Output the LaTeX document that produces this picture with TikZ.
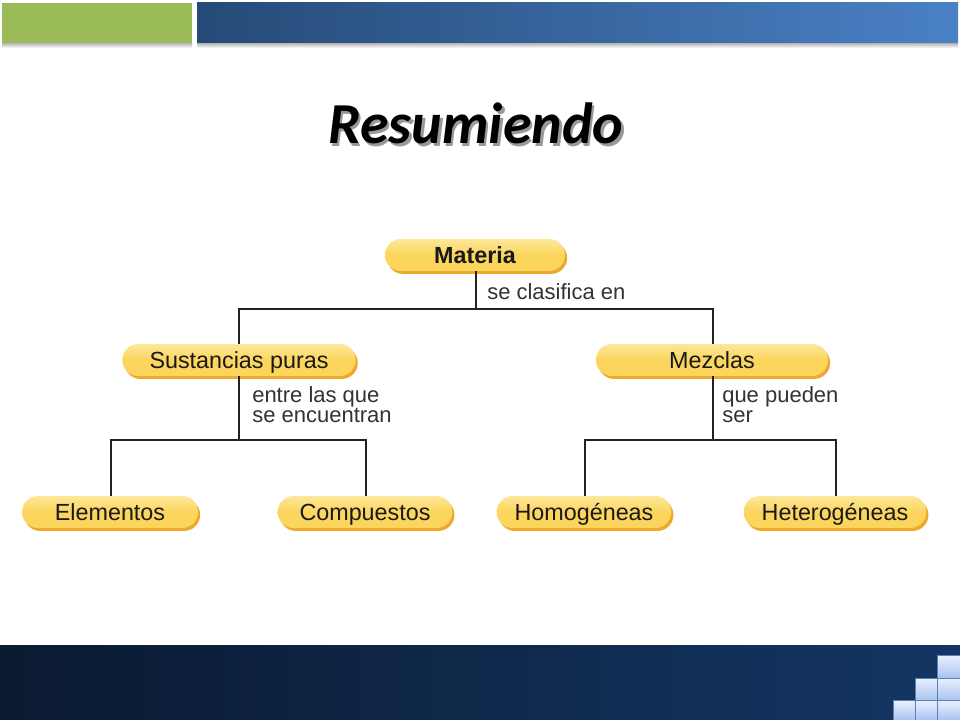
\documentclass[tikz,border=0pt]{standalone}
\usepackage{fontspec}
\setmainfont{Liberation Sans}
\newfontfamily\titlefont{Carlito}
\usetikzlibrary{shapes.misc}
\definecolor{barGreen}{HTML}{9BBB59}
\definecolor{blueL}{HTML}{264A77}
\definecolor{blueR}{HTML}{4A81C6}
\definecolor{navyL}{HTML}{0A1A31}
\definecolor{navyR}{HTML}{143664}
\definecolor{pillY}{HTML}{FBD55C}
\definecolor{pillTop}{HTML}{FDE79A}
\definecolor{pillSh}{HTML}{EEA92C}
\definecolor{lineC}{HTML}{222222}
\definecolor{labC}{HTML}{333333}
\definecolor{sqTop}{HTML}{EAF1FF}
\definecolor{sqBot}{HTML}{A9C3EE}
\definecolor{sqEdge}{HTML}{5F7FB4}
\tikzset{
  pill/.style={rounded rectangle, minimum height=24pt, inner sep=0pt,
    text height=13pt, text depth=0.6pt,
    top color=pillTop, bottom color=pillY, middle color=pillY,
    font=\fontsize{17.5pt}{20pt}\selectfont, text=black!90,
    preaction={fill=pillSh, transform canvas={shift={(1.6pt,-2.2pt)}}}},
  lab/.style={font=\fontsize{16.5pt}{15pt}\selectfont, text=labC, align=left, inner sep=0pt},
  conn/.style={draw=lineC, line width=1.4pt},
  sq/.style={top color=sqTop, bottom color=sqBot, draw=sqEdge, line width=0.6pt}
}
\begin{document}
\begin{tikzpicture}[x=0.75pt,y=-0.75pt]
\useasboundingbox (0,0) rectangle (960,720);
\fill[white] (0,0) rectangle (960,720);
% top bars
\shade[top color=black!30, bottom color=white] (2,43) rectangle (192,48);
\shade[top color=black!30, bottom color=white] (197,43) rectangle (958,48);
\fill[barGreen] (2,3) rectangle (192,43);
\shade[left color=blueL, right color=blueR] (197,3) rectangle (958,43);
% title
\node (title) [font=\titlefont\bfseries\itshape\fontsize{43.5pt}{48pt}\selectfont, text=black] at (476,125)
  {\rlap{\hspace{1.8pt}\raisebox{-1.8pt}{\color{black!40}Resumiendo}}Resumiendo};
% bottom bar
\shade[left color=navyL, right color=navyR] (0,645) rectangle (960,720);
\path[sq] (937,655) rectangle (960,678);
\path[sq] (915,678) rectangle (937,700);
\path[sq] (937,678) rectangle (960,700);
\path[sq] (893,700) rectangle (915,720);
\path[sq] (915,700) rectangle (937,720);
\path[sq] (937,700) rectangle (960,720);
% nodes
\node[pill, minimum width=135pt] (mat) at (475,255) {\bfseries Materia};
\node[pill, minimum width=175pt] (sp) at (239,360) {Sustancias puras};
\node[pill, minimum width=174pt] (mez) at (712,360) {Mezclas};
\node[pill, minimum width=132pt] (ele) at (110,512) {Elementos};
\node[pill, minimum width=131pt] (com) at (365,512) {Compuestos};
\node[pill, minimum width=131pt] (hom) at (584,512) {Homogéneas};
\node[pill, minimum width=137pt] (het) at (835,512) {Heterogéneas};
% junctions
\coordinate (j1) at (476,309);
\coordinate (j2) at (239,440);
\coordinate (j3) at (713,440);
% connectors
\draw[conn] (mat.south -| j1) -- (j1);
\draw[conn] (sp.north -| 239,0) |- (j1) -| (mez.north -| 713,0);
\draw[conn] (sp.south -| j2) -- (j2);
\draw[conn] (ele.north -| 111,0) |- (j2) -| (com.north -| 366,0);
\draw[conn] (mez.south -| j3) -- (j3);
\draw[conn] (hom.north -| 585,0) |- (j3) -| (het.north -| 836,0);
% labels
\node[lab, anchor=west] (l1) at (487,292) {se clasifica en};
\node[lab, anchor=north west] (l2) at (252,386) {entre las que\\se encuentran};
\node[lab, anchor=north west] (l3) at (722,386) {que pueden\\ser};
\end{tikzpicture}
\end{document}
